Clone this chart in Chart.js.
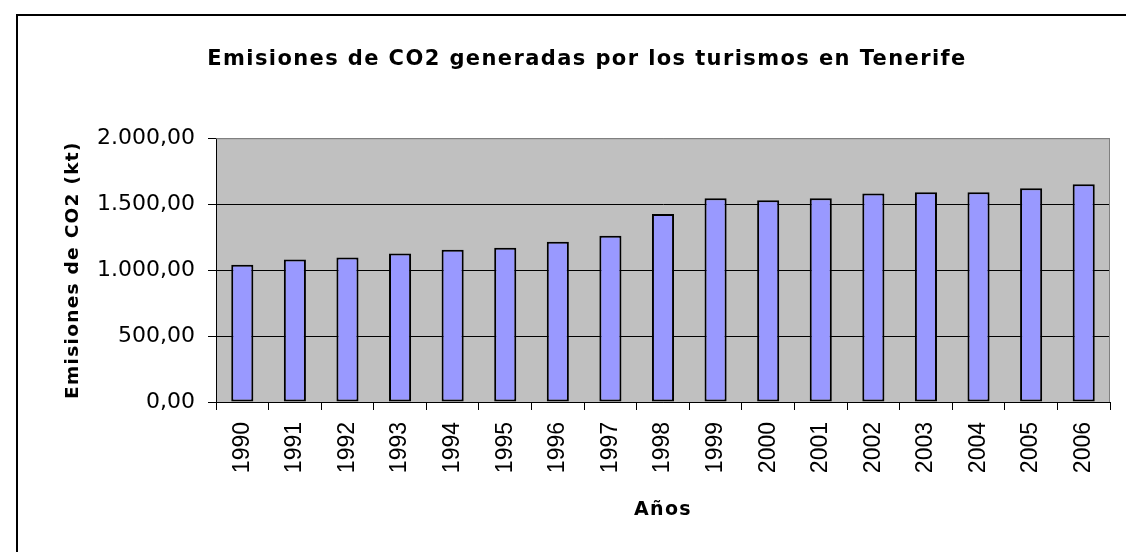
<!DOCTYPE html>
<html><head><meta charset="utf-8">
<script src="https://cdn.jsdelivr.net/npm/chart.js@4"></script>
<style>html,body{margin:0;padding:0;background:#fff}canvas{display:block}</style>
</head><body>
<canvas id="c" width="1126" height="552"></canvas>
<script>
const years = ['1990','1991','1992','1993','1994','1995','1996','1997','1998','1999','2000','2001','2002','2003','2004','2005','2006'];
const emissions = [1040,1080,1095,1125,1155,1170,1215,1260,1425,1545,1530,1545,1580,1590,1590,1620,1650];
const yTicks = [0,500,1000,1500,2000];
const chartTitle = 'Emisiones de CO2 generadas por los turismos en Tenerife';
const yTitle = 'Emisiones de CO2 (kt)';
const xTitle = 'Años';

function fmt(v){
  const fixed = Number(v).toFixed(2);
  let parts = fixed.split('.');
  const i = parts[0].replace(/\B(?=(\d{3})+(?!\d))/g,'.');
  return i + ',' + parts[1];
}

const framePlugin = {
  id:'frame',
  beforeDraw(chart){
    const {ctx, chartArea:a} = chart;
    ctx.save();
    ctx.fillStyle='#fff'; ctx.fillRect(0,0,chart.width,chart.height);
    ctx.strokeStyle='#000'; ctx.lineWidth=2;
    ctx.beginPath(); ctx.moveTo(17, chart.height+10); ctx.lineTo(17,15); ctx.lineTo(chart.width+10,15); ctx.stroke();
    ctx.fillStyle='#C0C0C0'; ctx.fillRect(a.left,a.top,a.right-a.left,a.bottom-a.top);
    ctx.restore();
  },
  beforeDatasetsDraw(chart){
    const {ctx, chartArea:a} = chart;
    ctx.save();
    ctx.strokeStyle='#808080'; ctx.lineWidth=1;
    ctx.beginPath(); ctx.moveTo(a.left, a.top+0.5); ctx.lineTo(a.right-0.5, a.top+0.5); ctx.lineTo(a.right-0.5, a.bottom); ctx.stroke();
    ctx.restore();
  },
  afterLayout(chart){
    if (chart.$wrapped) return; chart.$wrapped = true;
    const ctx = chart.ctx;
    const tb = chart.titleBlock;
    if (tb) {
      const od = tb.draw.bind(tb);
      tb.draw = function(){ ctx.save(); ctx.letterSpacing='1.4px'; ctx.translate(32,0); od(); ctx.restore(); };
    }
    ['x','y'].forEach(id => {
      const s = chart.scales[id];
      const o = s.drawTitle.bind(s);
      s.drawTitle = function(){ ctx.save(); ctx.letterSpacing='1.3px'; o(); ctx.restore(); };
    });
  }
};

new Chart(document.getElementById('c').getContext('2d'), {
  type:'bar',
  data:{labels:years, datasets:[{data:emissions, backgroundColor:'#9999FF', borderColor:'#000', borderWidth:2, borderSkipped:false, barPercentage:0.42, categoryPercentage:1}]},
  options:{
    responsive:false, animation:false, devicePixelRatio:1,
    layout:{padding:{left:0,right:16,top:0,bottom:0}},
    plugins:{
      legend:{display:false}, tooltip:{enabled:false},
      title:{display:true, text:chartTitle, color:'#000', font:{family:'DejaVu Sans', size:21, weight:'bold'}, padding:{top:47,bottom:66}}
    },
    scales:{
      x:{
        grid:{offset:true, drawOnChartArea:false, drawTicks:true, tickLength:8, color:'#000', lineWidth:1},
        border:{color:'#000', width:1},
        ticks:{autoSkip:false, minRotation:90, maxRotation:90, padding:12, color:'#000', font:{family:'Liberation Sans', size:23}},
        title:{display:true, text:xTitle, color:'#000', font:{family:'DejaVu Sans', size:19, weight:'bold'}, padding:{top:0,bottom:31}},
        afterFit(s){ s.height = 150; }
      },
      y:{
        min:0, max:2000,
        afterBuildTicks(s){ s.ticks = yTicks.map(v => ({value:v})); },
        ticks:{padding:13, color:'#000', font:{family:'DejaVu Sans', size:22}, callback:v => fmt(v)},
        grid:{color:c => (c.tick && c.tick.value === 2000) ? '#808080' : '#000', tickColor:'#000', tickLength:8, lineWidth:1},
        border:{color:'#000', width:1},
        title:{display:true, text:yTitle, color:'#000', font:{family:'DejaVu Sans', size:18.5, weight:'bold'}, padding:{top:62,bottom:0}},
        afterFit(s){ s.width = 216; }
      }
    }
  },
  plugins:[framePlugin]
});
</script>
</body></html>
